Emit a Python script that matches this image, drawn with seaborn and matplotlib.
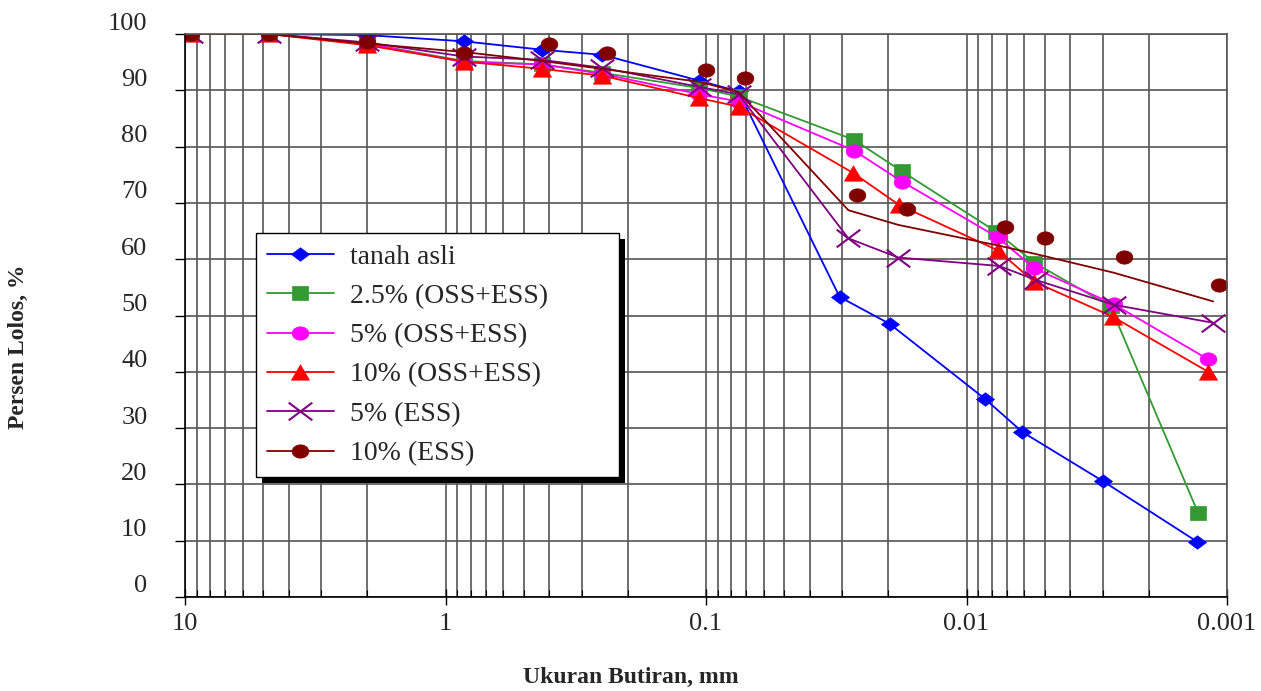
import numpy as np
import matplotlib
matplotlib.use("Agg")
import matplotlib.pyplot as plt
import matplotlib.transforms as mtransforms
import seaborn as sns
from matplotlib.path import Path
from matplotlib.lines import Line2D
from matplotlib.patches import Rectangle
from matplotlib.ticker import FixedLocator, FixedFormatter, NullFormatter, LogLocator

# grain size (mm) and percent passing
tanah_d = [9.5, 4.75, 2.0, 0.85, 0.425, 0.25, 0.106, 0.075, 0.0307, 0.0197, 0.0085, 0.0061, 0.0030, 0.0013]
tanah_p = [100, 100, 99.8, 98.7, 97.2, 96.3, 91.7, 89.8, 53.3, 48.5, 35.2, 29.3, 20.6, 9.8]

oss25_d = [9.5, 4.75, 2.0, 0.85, 0.425, 0.25, 0.106, 0.075, 0.0270, 0.0177, 0.0077, 0.0055, 0.0028, 0.00129]
oss25_p = [100, 100, 98.3, 95.2, 94.6, 93.1, 90.4, 88.9, 81.2, 75.6, 64.9, 59.4, 51.6, 14.9]

oss5_d = [9.5, 4.75, 2.0, 0.85, 0.425, 0.25, 0.106, 0.075, 0.0270, 0.0177, 0.0076, 0.0055, 0.00272, 0.00118]
oss5_p = [100, 100, 98.3, 95.0, 94.6, 92.9, 89.3, 88.0, 79.3, 73.8, 63.9, 58.4, 52.0, 42.2]

oss10_d = [9.5, 4.75, 2.0, 0.85, 0.425, 0.25, 0.106, 0.075, 0.0272, 0.0181, 0.0076, 0.0055, 0.00275, 0.00118]
oss10_p = [100, 100, 98.0, 95.1, 93.8, 92.6, 88.6, 87.1, 75.3, 69.6, 61.6, 56.0, 49.8, 40.0]

ess5_d = [9.5, 4.75, 2.0, 0.85, 0.425, 0.25, 0.106, 0.075, 0.0284, 0.0183, 0.0075, 0.0054, 0.00272, 0.00113]
ess5_p = [100, 100, 98.5, 96.0, 95.4, 94.0, 90.6, 89.3, 63.7, 60.3, 58.8, 56.3, 51.9, 48.7]

# 10% ESS: points and the line are drawn separately in the original
ess10_pt_d = [9.5, 4.75, 2.0, 0.85, 0.40, 0.24, 0.10, 0.071, 0.0264, 0.0169, 0.0071, 0.0050, 0.00249, 0.00107]
ess10_pt_p = [100, 100, 98.5, 96.6, 98.2, 96.6, 93.6, 92.2, 71.4, 69.0, 65.7, 63.7, 60.4, 55.4]
ess10_ln_d = [9.5, 4.75, 2.0, 0.85, 0.425, 0.25, 0.106, 0.075, 0.0284, 0.0183, 0.0075, 0.0054, 0.00272, 0.00113]
ess10_ln_p = [100, 100, 98.3, 96.8, 95.2, 93.8, 91.5, 89.7, 68.7, 66.1, 62.4, 60.9, 57.6, 52.5]

labels = ["tanah asli", "2.5% (OSS+ESS)", "5% (OSS+ESS)", "10% (OSS+ESS)", "5% (ESS)", "10% (ESS)"]
x_ticks = [10, 1, 0.1, 0.01, 0.001]
x_tick_labels = ["10", "1", "0.1", "0.01", "0.001"]
y_ticks = [0, 10, 20, 30, 40, 50, 60, 70, 80, 90, 100]

# marker shapes (slightly wider than tall like the excel ones)
t = np.linspace(0, 2 * np.pi, 60)
ellipse = Path(np.column_stack([np.cos(t), 0.8 * np.sin(t)]), closed=True)
diamond = Path([(0, 0.75), (1, 0), (0, -0.75), (-1, 0), (0, 0.75)], closed=True)
square = Path([(-1, -0.85), (1, -0.85), (1, 0.85), (-1, 0.85), (-1, -0.85)], closed=True)
triangle = Path([(0, 0.85), (-1, -0.85), (1, -0.85), (0, 0.85)], closed=True)
cross = Path([(-1, -0.75), (1, 0.75), (-1, 0.75), (1, -0.75)],
             [Path.MOVETO, Path.LINETO, Path.MOVETO, Path.LINETO])

styles = [
    dict(color="#0000ff", marker=diamond, markersize=13, mfc="#0000ff", mew=0.5),
    dict(color="#339933", marker=square, markersize=12, mfc="#339933", mew=0.5),
    dict(color="#ff00ff", marker=ellipse, markersize=12, mfc="#ff00ff", mew=0.5),
    dict(color="#ff0000", marker=triangle, markersize=13, mfc="#ff0000", mew=0.5),
    dict(color="#800080", marker=cross, markersize=17, mfc="none", mew=1.5),
    dict(color="#800000", marker=ellipse, markersize=12, mfc="#800000", mew=0.5),
]
series = [(tanah_d, tanah_p), (oss25_d, oss25_p), (oss5_d, oss5_p),
          (oss10_d, oss10_p), (ess5_d, ess5_p)]

sns.set_style("white")
plt.rcParams['font.family'] = ['Liberation Serif', 'DejaVu Serif']

fig = plt.figure(figsize=(12.61, 6.91), dpi=100)
ax = fig.add_axes([185 / 1261, 94 / 691, 1042 / 1261, 563 / 691])
ax.set_xscale('log')
grid_c = '#555555'

for (d, p), st in zip(series, styles):
    sns.lineplot(x=d, y=p, ax=ax, color=st["color"], marker=st["marker"],
                 markersize=st["markersize"], markeredgecolor=st["color"],
                 markerfacecolor=st["mfc"], markeredgewidth=st["mew"],
                 linewidth=1.3, estimator=None, sort=False, legend=False)

brown = styles[5]
sns.lineplot(x=ess10_ln_d, y=ess10_ln_p, ax=ax, color=brown["color"],
             linewidth=1.3, estimator=None, sort=False, legend=False)
sns.lineplot(x=ess10_pt_d, y=ess10_pt_p, ax=ax, color=brown["color"], linestyle='',
             marker=brown["marker"], markersize=brown["markersize"],
             markeredgecolor=brown["color"], markerfacecolor=brown["mfc"],
             markeredgewidth=0.5, estimator=None, sort=False, legend=False)

ax.set_xlim(10, 0.001)
ax.set_ylim(0, 100)
ax.xaxis.set_major_locator(FixedLocator(x_ticks))
ax.xaxis.set_major_formatter(FixedFormatter(x_tick_labels))
ax.xaxis.set_minor_locator(LogLocator(base=10, subs=np.arange(2, 10)))
ax.xaxis.set_minor_formatter(NullFormatter())
ax.set_yticks(y_ticks)
ax.set_xlabel('')
ax.set_ylabel('')

ax.set_axisbelow(True)
ax.grid(True, which='major', axis='both', color=grid_c, lw=1.2)
ax.grid(True, which='minor', axis='x', color=grid_c, lw=1.2)

ax.tick_params(axis='y', which='major', direction='out', length=7, width=1,
               pad=20, labelsize=19, color='k', left=True)
ax.tick_params(axis='x', which='major', direction='inout', length=11, width=1,
               pad=6, labelsize=19, color='k', bottom=True)
ax.tick_params(axis='x', which='minor', direction='in', length=5, width=0.8,
               color='k', bottom=True)

for s in ['left', 'bottom']:
    ax.spines[s].set_color('k')
    ax.spines[s].set_linewidth(1.2)
for s in ['top', 'right']:
    ax.spines[s].set_color(grid_c)
    ax.spines[s].set_linewidth(1.2)

# y labels sit a bit above their grid lines in the original
offset = mtransforms.ScaledTranslation(0, 0.13, fig.dpi_scale_trans)
for lab in ax.get_yticklabels():
    lab.set_transform(lab.get_transform() + offset)

handles = []
for st in styles:
    handles.append(Line2D([], [], color=st["color"], marker=st["marker"],
                          markersize=st["markersize"], markeredgecolor=st["color"],
                          markerfacecolor=st["mfc"], markeredgewidth=st["mew"], lw=1.3))
leg = ax.legend(handles, labels, loc='upper left',
                bbox_to_anchor=(0.0681, 0.2, 0.3484, 0.4465), mode='expand',
                borderaxespad=0, fontsize=20, frameon=True, fancybox=False,
                framealpha=1, edgecolor='k', borderpad=0.4, labelspacing=0.5,
                handlelength=2.4, handletextpad=0.6)
leg.get_frame().set_linewidth(1.0)

# hard black drop shadow like the excel legend
fig.canvas.draw()
bb = leg.get_window_extent()
shadow = Rectangle((bb.x0 + 6, bb.y0 - 6), bb.width, bb.height,
                   transform=mtransforms.IdentityTransform(), facecolor='k',
                   edgecolor='none', zorder=4.9, clip_on=False)
ax.add_patch(shadow)

fig.text(0.5, 1 - 677 / 691, 'Ukuran Butiran, mm', ha='center', va='center',
         fontsize=17, fontweight='bold')
fig.text(18 / 1261, 1 - 347 / 691, 'Persen Lolos, %', ha='center', va='center',
         rotation=90, fontsize=17, fontweight='bold')

fig.savefig('out.png', dpi=100)
